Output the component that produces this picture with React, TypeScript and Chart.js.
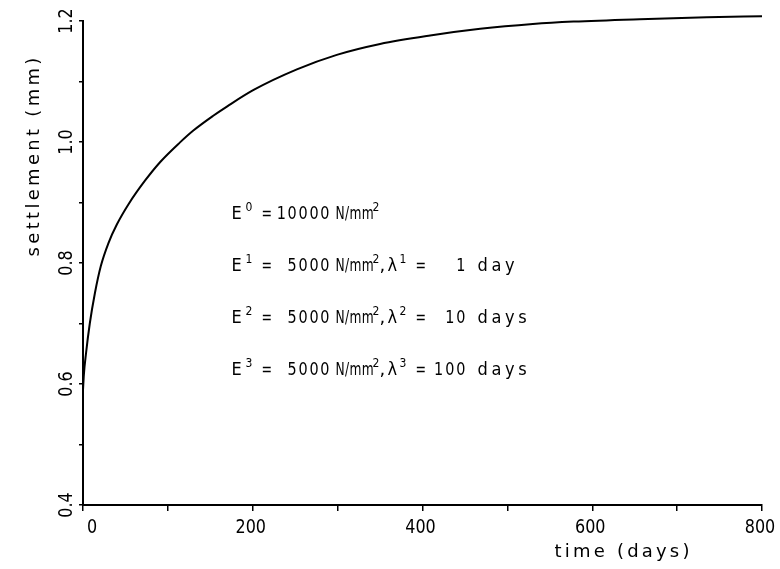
import { useEffect, useRef } from 'react';
import { Chart, registerables } from 'chart.js';

Chart.register(...registerables);

// ---- data ----
const timeDays = [0, 1, 3.5, 8, 14, 21, 30, 40, 54, 73, 91, 114, 130, 153, 170, 201, 252, 299, 350, 409, 468, 530, 578, 656, 735, 800];
const settlementMm = [0.59, 0.615, 0.65, 0.7, 0.75, 0.795, 0.833, 0.864, 0.898, 0.936, 0.967, 0.999, 1.019, 1.043, 1.059, 1.086, 1.12, 1.144, 1.162, 1.176, 1.187, 1.195, 1.199, 1.203, 1.206, 1.208];

const xTickValues = [0, 200, 400, 600, 800];
const xTickLabels = ['0', '200', '400', '600', '800'];
const yTickValues = [0.4, 0.6, 0.8, 1.0, 1.2];
const yTickLabels = ['0.4', '0.6', '0.8', '1.0', '1.2'];

const xTitle = 'time (days)';
const yTitle = 'settlement (mm)';

// parameter annotation
const layerIndex = ['0', '1', '2', '3'];
const layerModulus = ['10000', '5000', '5000', '5000'];
const retardationTime = ['', '1', '10', '100'];
const retardationUnit = ['', 'day', 'days', 'days'];
const modulusUnit = 'N/mm';

const FONT = '"DejaVu Sans", sans-serif';

function drawText(
  ctx: CanvasRenderingContext2D,
  text: string,
  x: number,
  y: number,
  size: number,
  spacing: number,
  sx: number,
  align: 'left' | 'center' | 'right',
  rot = false
) {
  ctx.save();
  ctx.translate(x, y);
  if (rot) ctx.rotate(-Math.PI / 2);
  ctx.scale(sx, 1);
  ctx.font = `${size}px ${FONT}`;
  (ctx as any).letterSpacing = `${spacing}px`;
  ctx.textBaseline = 'alphabetic';
  ctx.textAlign = 'left';
  ctx.fillStyle = '#000';
  const w = ctx.measureText(text).width - spacing;
  const dx = align === 'center' ? -w / 2 : align === 'right' ? -w : 0;
  ctx.fillText(text, dx, 0);
  ctx.restore();
}

const textPlugin = {
  id: 'customText',
  afterDraw(chart: any) {
    const ctx: CanvasRenderingContext2D = chart.ctx;
    const xs = chart.scales.x;
    const ys = chart.scales.y;
    const area = chart.chartArea;

    // x tick labels
    xTickValues.forEach((v, i) => {
      const px = xs.getPixelForValue(v) + (i === 0 ? 9 : -2);
      drawText(ctx, xTickLabels[i], px, area.bottom + 28, 20, 0, 0.8, 'center');
    });
    // y tick labels (rotated)
    yTickValues.forEach((v, i) => {
      const py = ys.getPixelForValue(v);
      drawText(ctx, yTickLabels[i], area.left - 11, py, 20, 0, 0.8, 'center', true);
    });
    // axis titles
    drawText(ctx, xTitle, 622, area.bottom + 52, 18, 3.2, 1, 'center');
    drawText(ctx, yTitle, 39, 157, 18, 3.3, 1, 'center', true);

    // parameter block
    const x0 = xs.getPixelForValue(175);
    const size = 18;
    const sup = 12;
    const sx = 0.8;
    layerIndex.forEach((idx, i) => {
      const by = area.top + 198 + i * 52;
      drawText(ctx, 'E', x0, by, size, 0, 0.9, 'left');
      drawText(ctx, idx, x0 + 14, by - 8, sup, 0, 0.9, 'left');
      drawText(ctx, '=', x0 + 30, by, size, 0, 0.7, 'left');
      drawText(ctx, layerModulus[i], x0 + 98, by, size, 2.2, sx, 'right');
      drawText(ctx, modulusUnit, x0 + 104, by, size, 0.5, 0.68, 'left');
      drawText(ctx, '2', x0 + 141, by - 8, sup, 0, 0.9, 'left');
      if (retardationTime[i]) {
        drawText(ctx, ',', x0 + 148, by, size, 0, 1, 'left');
        drawText(ctx, 'λ', x0 + 156, by, size, 0, 0.9, 'left');
        drawText(ctx, idx, x0 + 168, by - 8, sup, 0, 0.9, 'left');
        drawText(ctx, '=', x0 + 184, by, size, 0, 0.7, 'left');
        drawText(ctx, retardationTime[i], x0 + 234, by, size, 2.5, sx, 'right');
        drawText(ctx, retardationUnit[i], x0 + 246, by, size, 4, 0.9, 'left');
      }
    });
  },
};

export default function App() {
  const ref = useRef<HTMLCanvasElement | null>(null);

  useEffect(() => {
    if (!ref.current) return;
    const points = timeDays.map((t, i) => ({ x: t, y: settlementMm[i] }));
    const chart = new Chart(ref.current, {
      type: 'scatter',
      data: {
        datasets: [
          {
            data: points,
            showLine: true,
            borderColor: '#000',
            borderWidth: 2,
            pointRadius: 0,
            cubicInterpolationMode: 'monotone',
            clip: false as any,
          } as any,
        ],
      },
      options: {
        animation: false,
        responsive: false,
        layout: { padding: { top: 21, right: 18, left: 0, bottom: 0 } },
        plugins: { legend: { display: false }, tooltip: { enabled: false } },
        scales: {
          x: {
            type: 'linear',
            min: 0,
            max: 800,
            ticks: { stepSize: 100, autoSkip: false, callback: () => '', font: { size: 1 } },
            grid: { drawOnChartArea: false, drawTicks: true, tickLength: 6, color: '#000', lineWidth: 1.5 },
            border: { display: true, color: '#000', width: 2 },
            afterFit: (s: any) => {
              s.height = 64;
            },
          },
          y: {
            type: 'linear',
            min: 0.4,
            max: 1.2,
            ticks: { stepSize: 0.1, autoSkip: false, callback: () => '', font: { size: 1 } },
            grid: { drawOnChartArea: false, drawTicks: true, tickLength: 4, color: '#000', lineWidth: 1.5 },
            border: { display: true, color: '#000', width: 2 },
            afterFit: (s: any) => {
              s.width = 83;
            },
          },
        },
      },
      plugins: [textPlugin],
    });
    return () => chart.destroy();
  }, []);

  return (
    <div style={{ position: 'fixed', left: 0, top: 0, width: 780, height: 569, background: '#fff' }}>
      <canvas ref={ref} width={780} height={569} style={{ display: 'block' }} />
    </div>
  );
}
